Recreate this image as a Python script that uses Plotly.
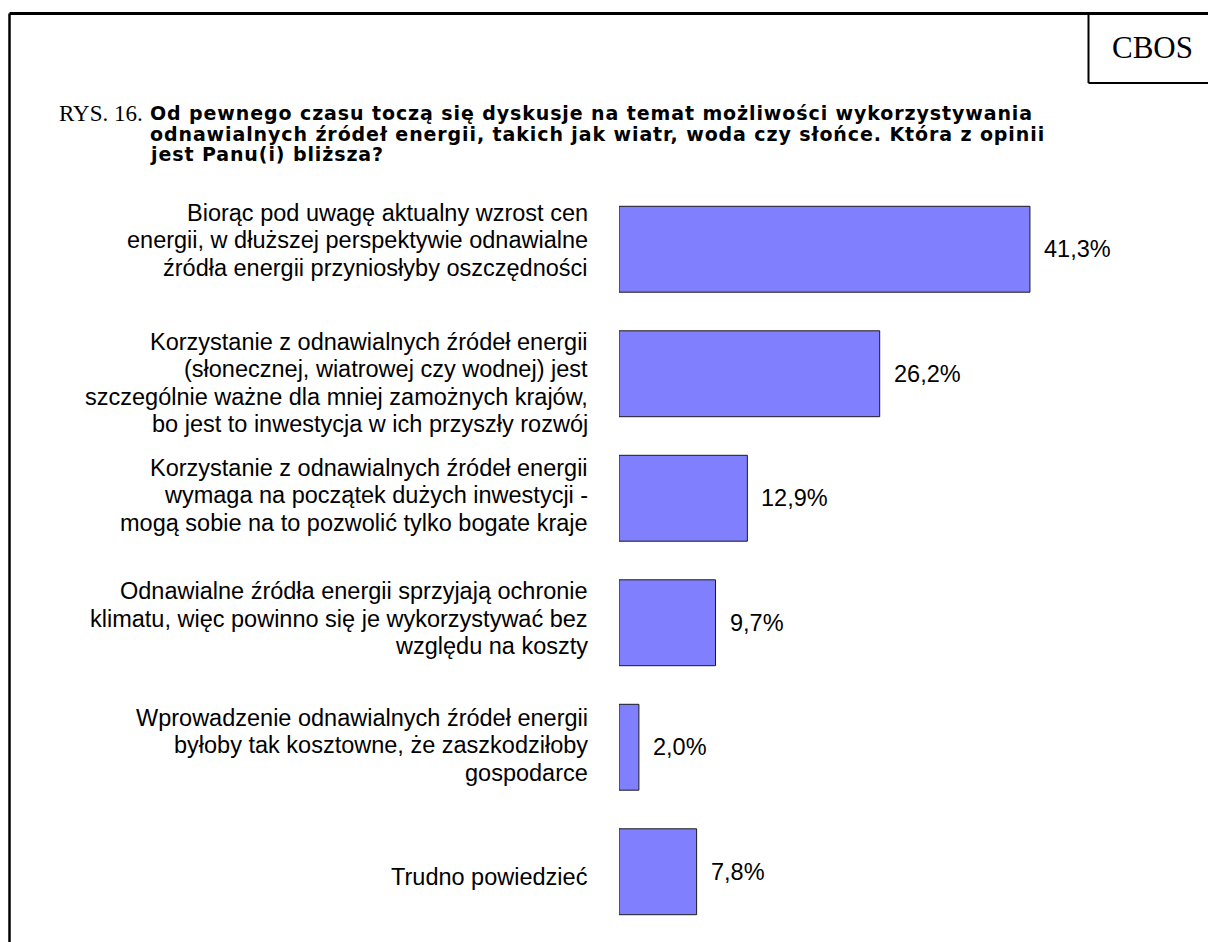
import plotly.graph_objects as go

# ---- data ----
categories = [
    "Biorąc pod uwagę aktualny wzrost cen<br>energii, w dłuższej perspektywie odnawialne<br>źródła energii przyniosłyby oszczędności",
    "Korzystanie z odnawialnych źródeł energii<br>(słonecznej, wiatrowej czy wodnej) jest<br>szczególnie ważne dla mniej zamożnych krajów,<br>bo jest to inwestycja w ich przyszły rozwój",
    "Korzystanie z odnawialnych źródeł energii<br>wymaga na początek dużych inwestycji -<br>mogą sobie na to pozwolić tylko bogate kraje",
    "Odnawialne źródła energii sprzyjają ochronie<br>klimatu, więc powinno się je wykorzystywać bez<br>względu na koszty",
    "Wprowadzenie odnawialnych źródeł energii<br>byłoby tak kosztowne, że zaszkodziłoby<br>gospodarce",
    "Trudno powiedzieć",
]
values = [41.3, 26.2, 12.9, 9.7, 2.0, 7.8]
title_prefix = "RYS. 16."
title_lines = [
    "Od pewnego czasu toczą się dyskusje na temat możliwości wykorzystywania",
    "odnawialnych źródeł energii, takich jak wiatr, woda czy słońce. Która z opinii",
    "jest Panu(i) bliższa?",
]
brand = "CBOS"

# ---- layout constants (pixels) ----
W, H = 1208, 942
ML, MR, MT, MB = 619, 89, 187, 8
PW, PH = W - ML - MR, H - MT - MB


def px(x):
    return (x - ML) / PW


def py(y):
    return 1 - (y - MT) / PH


LABEL_FONT = dict(family="Liberation Sans, Arial, sans-serif", size=23.5, color="#000000")
LINE_STEP = 27.5
# small vertical nudges of the category label blocks (px, positive = down)
label_nudge = [-9, 9, -3, -4, -2, 5]

fig = go.Figure()
fig.add_trace(go.Bar(
    x=values,
    y=categories,
    orientation="h",
    marker=dict(color="#8080FF", line=dict(color="#1a1a1a", width=1)),
    hoverinfo="skip",
))

annotations = []
# category labels, one annotation per line for tight line spacing
for cat, nudge in zip(categories, label_nudge):
    lines = cat.split("<br>")
    n = len(lines)
    for j, line in enumerate(lines):
        annotations.append(dict(
            x=0, xref="paper", y=cat, yref="y",
            text=line, showarrow=False,
            xanchor="right", yanchor="middle", align="right",
            xshift=-29, yshift=((n - 1) / 2 - j) * LINE_STEP - nudge,
            font=LABEL_FONT,
        ))

# value labels
for cat, v in zip(categories, values):
    annotations.append(dict(
        x=v, xref="x", y=cat, yref="y",
        text=f"{v:.1f}".replace(".", ",") + "%",
        showarrow=False, xanchor="left", yanchor="middle",
        xshift=12, font=LABEL_FONT,
    ))

# title
annotations.append(dict(
    x=px(57), xref="paper", y=py(113), yref="paper",
    text=title_prefix, showarrow=False, xanchor="left", yanchor="middle",
    font=dict(family="Liberation Serif, Times New Roman, serif", size=23, color="#000000"),
))
for j, line in enumerate(title_lines):
    annotations.append(dict(
        x=px(148), xref="paper", y=py(113 + 20.5 * j), yref="paper",
        text='<span style="letter-spacing:0.9px">' + line + "</span>",
        showarrow=False, xanchor="left", yanchor="middle",
        font=dict(family="DejaVu Sans, Liberation Sans, sans-serif", size=19,
                  color="#000000", weight="bold"),
    ))

# brand box text
annotations.append(dict(
    x=px(1152), xref="paper", y=py(48), yref="paper",
    text=brand, showarrow=False, xanchor="center", yanchor="middle",
    font=dict(family="Liberation Serif, Times New Roman, serif", size=31, color="#000000"),
))

shapes = [
    # outer frame: top and left lines
    dict(type="line", xref="paper", yref="paper", x0=px(9.5), x1=px(1210), y0=py(13.5), y1=py(13.5),
         line=dict(color="#000000", width=3)),
    dict(type="line", xref="paper", yref="paper", x0=px(9.5), x1=px(9.5), y0=py(13.5), y1=py(945),
         line=dict(color="#000000", width=2.5)),
    # CBOS box
    dict(type="line", xref="paper", yref="paper", x0=px(1088.5), x1=px(1088.5), y0=py(13.5), y1=py(83),
         line=dict(color="#000000", width=2)),
    dict(type="line", xref="paper", yref="paper", x0=px(1088.5), x1=px(1210), y0=py(83), y1=py(83),
         line=dict(color="#000000", width=2)),
]

fig.update_layout(
    width=W, height=H,
    margin=dict(l=ML, r=MR, t=MT, b=MB, pad=0),
    paper_bgcolor="#FFFFFF", plot_bgcolor="#FFFFFF",
    showlegend=False,
    bargap=0.31,
    xaxis=dict(range=[0, 50.25], visible=False, fixedrange=True),
    yaxis=dict(type="category", range=[5.5, -0.5], showticklabels=False,
               showgrid=False, zeroline=False, showline=False, ticks="", fixedrange=True),
    annotations=annotations,
    shapes=shapes,
)

fig.write_html(
    "out.html",
    config={"displayModeBar": False},
    post_script="document.body.style.margin='0';document.body.style.overflow='hidden';",
)
